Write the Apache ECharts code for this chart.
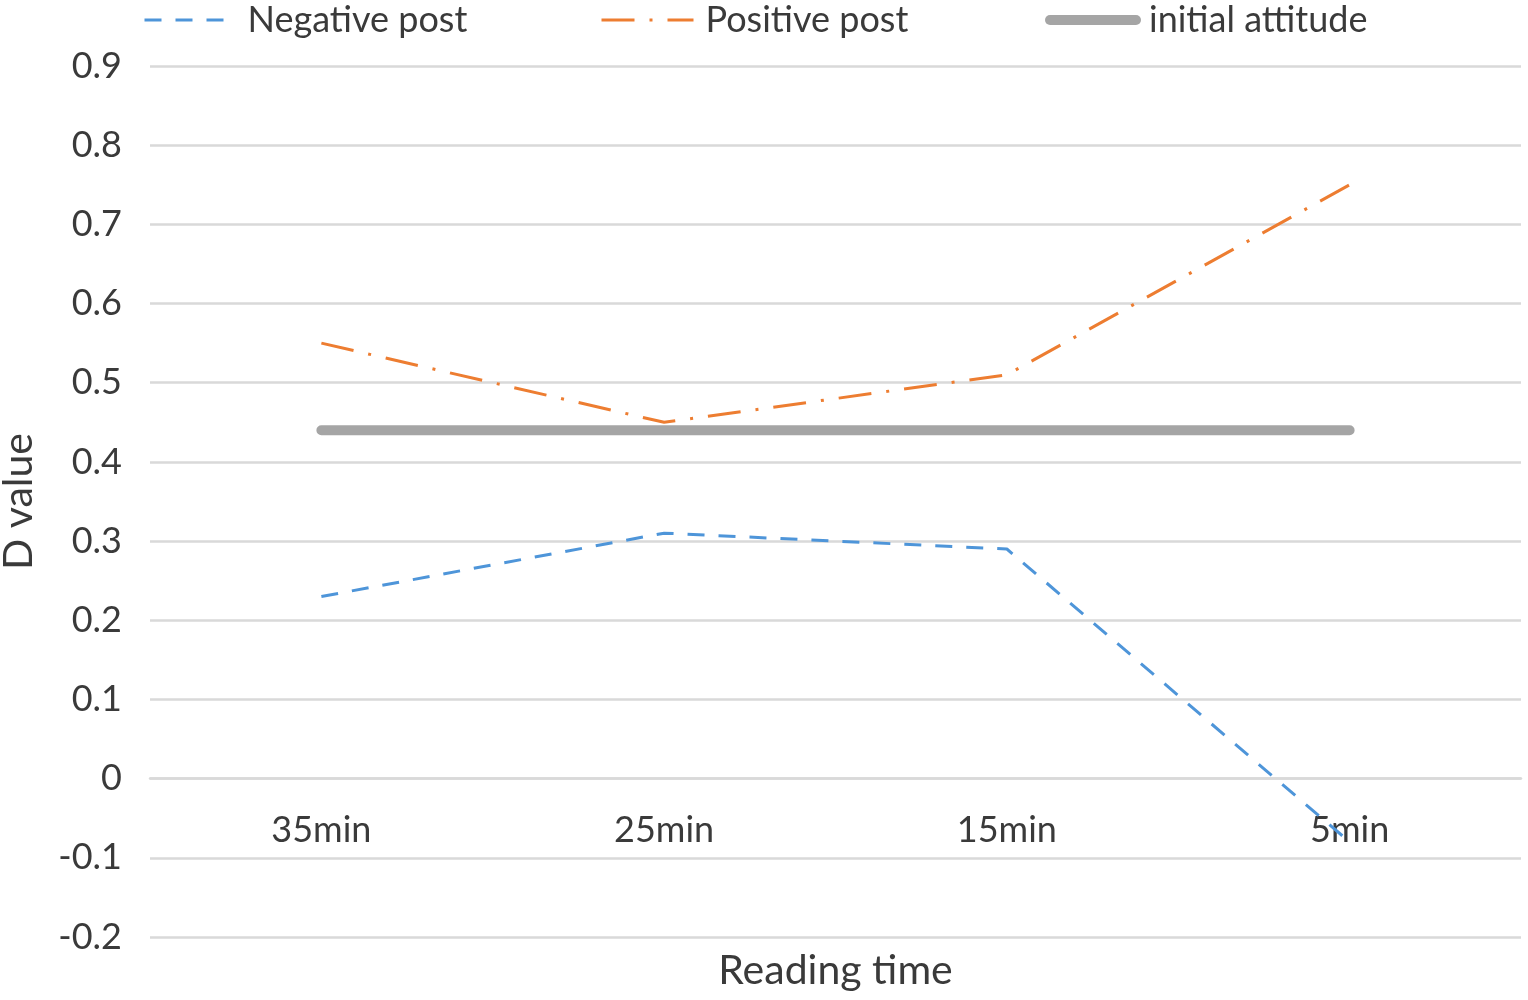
<!DOCTYPE html>
<html>
<head>
<meta charset="utf-8">
<script src="https://cdn.jsdelivr.net/npm/echarts@6/dist/echarts.min.js"></script>
<style>
html,body{margin:0;padding:0;background:#fff;}
#chart{width:1528px;height:1000px;}
</style>
</head>
<body>
<div id="chart"></div>
<script>
// ---- data ----
const categories = ['35min', '25min', '15min', '5min'];
const negativePost = [0.23, 0.31, 0.29, -0.08];
const positivePost = [0.55, 0.45, 0.51, 0.75];
const initialAttitude = [0.44, 0.44, 0.44, 0.44];
const seriesNames = ['Negative post', 'Positive post', 'initial attitude'];
const yMin = -0.2, yMax = 0.9, yStep = 0.1;
const xTitle = 'Reading time';
const yTitle = 'D value';

const FONT = 'Lato';
const TXT = '#3a3a3a';
const GRID = {left: 150, right: 7, top: 66, bottom: 63};
const plotH = 1000 - GRID.top - GRID.bottom;
// place the category axis at the value-axis zero line (as in the original)
const xOffset = -((0 - yMin) / (yMax - yMin)) * plotH;

const chart = echarts.init(document.getElementById('chart'), null, {renderer: 'canvas'});

function legendAt(left, name, iconW, gap) {
  return {
    left: left, top: 2, padding: 0,
    data: [name],
    itemWidth: iconW, itemHeight: 14,
    itemStyle: {opacity: 0},
    lineStyle: {width: 'inherit', type: 'inherit', cap: 'inherit'},
    textStyle: {fontFamily: FONT, fontSize: 36, color: TXT, padding: [0, 0, 0, gap]},
    selectedMode: false
  };
}

chart.setOption({
  animation: false,
  backgroundColor: '#ffffff',
  grid: Object.assign({containLabel: false, outerBoundsMode: 'none'}, GRID),
  legend: [
    legendAt(143, seriesNames[0], 80, 18),
    legendAt(600, seriesNames[1], 92, 7),
    legendAt(1045, seriesNames[2], 86, 8)
  ],
  xAxis: {
    type: 'category',
    data: categories,
    boundaryGap: true,
    position: 'bottom',
    offset: xOffset,
    axisLine: {show: true, onZero: false, lineStyle: {color: '#d9d9d9', width: 2.5}},
    axisTick: {show: false},
    axisLabel: {fontFamily: FONT, fontSize: 36, color: TXT, margin: 34},
    name: xTitle,
    nameLocation: 'middle',
    nameGap: 172,
    nameTextStyle: {fontFamily: FONT, fontSize: 41, color: TXT}
  },
  yAxis: {
    type: 'value',
    min: yMin, max: yMax, interval: yStep,
    axisLine: {show: false},
    axisTick: {show: false},
    splitLine: {show: true, lineStyle: {color: '#d9d9d9', width: 2.5}},
    axisLabel: {fontFamily: FONT, fontSize: 36, color: TXT, margin: 28,
      formatter: v => String(Math.round(v * 10) / 10)},
    name: yTitle,
    nameLocation: 'middle',
    nameRotate: 90,
    nameGap: 111,
    nameTextStyle: {fontFamily: FONT, fontSize: 41, color: TXT}
  },
  series: [
    {
      name: seriesNames[0], type: 'line', data: negativePost,
      symbol: 'none', z: 3,
      lineStyle: {color: '#4e95d9', width: 3, type: [17, 14]},
      itemStyle: {color: '#4e95d9'}
    },
    {
      name: seriesNames[1], type: 'line', data: positivePost,
      symbol: 'none', z: 3,
      lineStyle: {color: '#ed7d31', width: 3, type: [33, 15, 3, 15]},
      itemStyle: {color: '#ed7d31'}
    },
    {
      name: seriesNames[2], type: 'line', data: initialAttitude,
      symbol: 'none', z: 2,
      lineStyle: {color: '#a5a5a5', width: 10, cap: 'round'},
      itemStyle: {color: '#a5a5a5'}
    }
  ]
});
</script>
</body>
</html>
